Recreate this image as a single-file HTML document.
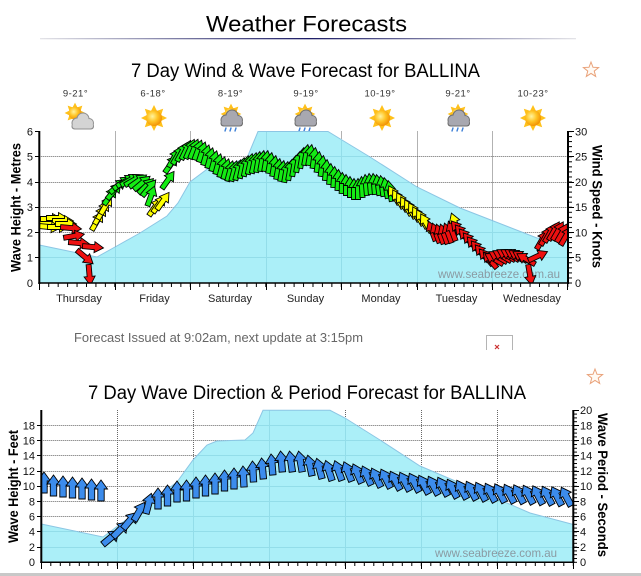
<!DOCTYPE html>
<html><head><meta charset="utf-8">
<style>
html,body{margin:0;padding:0;background:#fff;}
svg{display:block;}
text{font-family:"Liberation Sans",Arial,sans-serif;}
.g{fill:#14ec14}.y{fill:#ffff00}.r{fill:#ee1010}
</style></head><body>
<svg width="641" height="576" viewBox="0 0 641 576" xmlns="http://www.w3.org/2000/svg">
<defs>
<path id="a" d="M0,-10.5L5.5,-1.5H2.5V10.5H-2.5V-1.5H-5.5Z" stroke="#000" stroke-width="0.9"/>
<path id="b" d="M0,-11L6.5,-2H3.2V10H-3.2V-2H-6.5Z" stroke="#000" stroke-width="0.9" fill="#3c8cec"/>
<linearGradient id="ul" x1="0" x2="1" y1="0" y2="0">
<stop offset="0" stop-color="#e4e4e8"/><stop offset="0.5" stop-color="#1c1c66"/><stop offset="1" stop-color="#e4e4e8"/>
</linearGradient>
<radialGradient id="sg" cx="0.4" cy="0.4" r="0.65">
<stop offset="0" stop-color="#fff4a0"/><stop offset="0.5" stop-color="#ffc526"/><stop offset="1" stop-color="#f08c00"/>
</radialGradient>
<g id="sun">
<g fill="#ffc11a">
<polygon points="0,-13 -3,-7 3,-7"/>
<polygon points="0,-13 -3,-7 3,-7" transform="rotate(45)"/>
<polygon points="0,-13 -3,-7 3,-7" transform="rotate(90)"/>
<polygon points="0,-13 -3,-7 3,-7" transform="rotate(135)"/>
<polygon points="0,-13 -3,-7 3,-7" transform="rotate(180)"/>
<polygon points="0,-13 -3,-7 3,-7" transform="rotate(225)"/>
<polygon points="0,-13 -3,-7 3,-7" transform="rotate(270)"/>
<polygon points="0,-13 -3,-7 3,-7" transform="rotate(315)"/>
</g>
<circle r="8" fill="url(#sg)"/>
</g>
<g id="cl">
<g fill="#8f8f8f"><circle cx="-5" cy="2" r="5.5"/><circle cx="1" cy="-2" r="6.5"/><circle cx="7" cy="2" r="5"/><rect x="-10.5" y="2" width="22.5" height="6.5" rx="3"/></g>
<g fill="#d4d4d4"><circle cx="-5" cy="2" r="4.5"/><circle cx="1" cy="-2" r="5.5"/><circle cx="7" cy="2" r="4"/><rect x="-9.5" y="2" width="20.5" height="5.5" rx="2.5"/></g>
</g>
<g id="cd">
<g fill="#6f6f6f"><circle cx="-5" cy="2" r="5.5"/><circle cx="1" cy="-2" r="6.5"/><circle cx="7" cy="2" r="5"/><rect x="-10.5" y="2" width="22.5" height="6.5" rx="3"/></g>
<g fill="#a8a8b0"><circle cx="-5" cy="2" r="4.5"/><circle cx="1" cy="-2" r="5.5"/><circle cx="7" cy="2" r="4"/><rect x="-9.5" y="2" width="20.5" height="5.5" rx="2.5"/></g>
</g>
<g id="rn" stroke="#3d7fd6" stroke-width="1.4" stroke-linecap="round">
<line x1="-5" y1="10" x2="-6" y2="13"/><line x1="0" y1="10" x2="-1" y2="13"/><line x1="5" y1="10" x2="4" y2="13"/>
</g>
<polygon id="star" points="0,-8 2,-2.75 7.61,-2.47 3.23,1.05 4.7,6.47 0,3.4 -4.7,6.47 -3.23,1.05 -7.61,-2.47 -2,-2.75" fill="#fffaf4" stroke="#e9a27a" stroke-width="1"/>
<clipPath id="cp1"><rect x="39.3" y="120" width="528.7" height="163"/></clipPath>
<clipPath id="cp2"><rect x="41.3" y="400" width="532" height="162.3"/></clipPath>
<clipPath id="ar1"><polygon points="39.3,245 97,257 115,247 140,233 167,216 178,203 190,182 210,167 233,163 247,158 258,131.5 328,131.5 342,140 370,157 417,187 460,208 537,238 568,242 568,283 39.3,283"/></clipPath>
<clipPath id="ar2"><polygon points="41.3,524 103,537 150,502 177,482 193,460 207,445 217,441 245,440 253,433 263,410.3 330,410.3 345,418 380,440 420,466 460,483 500,500 530,513 573.3,524.5 573.3,562.3 41.3,562.3"/></clipPath>
<pattern id="t1" patternUnits="userSpaceOnUse" x="38.8" y="0" width="9.4375" height="10"><rect x="0" y="0" width="1" height="10" fill="#000"/></pattern>
<pattern id="t2" patternUnits="userSpaceOnUse" x="0" y="131" width="10" height="5.05"><rect x="0" y="0" width="10" height="1" fill="#000"/></pattern>
<pattern id="t3" patternUnits="userSpaceOnUse" x="40.8" y="0" width="9.5" height="10"><rect x="0" y="0" width="1" height="10" fill="#000"/></pattern>
<pattern id="t4" patternUnits="userSpaceOnUse" x="0" y="409.8" width="10" height="3.8"><rect x="0" y="0" width="10" height="1" fill="#000"/></pattern>
</defs>

<rect width="641" height="576" fill="#fff"/>

<!-- Header -->
<text x="306.5" y="31.5" font-size="22" text-anchor="middle" textLength="201" lengthAdjust="spacingAndGlyphs" fill="#000">Weather Forecasts</text>
<rect x="40" y="38" width="536" height="1.3" fill="url(#ul)"/>

<text x="305.5" y="77" font-size="19" text-anchor="middle" textLength="349" lengthAdjust="spacingAndGlyphs" fill="#000">7 Day Wind &amp; Wave Forecast for BALLINA</text>
<use href="#star" transform="translate(591,70)"/>

<!-- temps -->
<g font-size="9.5" fill="#333" text-anchor="middle" letter-spacing="0.5">
<text x="75.5" y="96.5">9-21°</text>
<text x="153" y="96.5">6-18°</text>
<text x="230.6" y="96.5">8-19°</text>
<text x="306" y="96.5">9-19°</text>
<text x="380" y="96.5">10-19°</text>
<text x="458" y="96.5">9-21°</text>
<text x="533" y="96.5">10-23°</text>
</g>

<!-- icons -->
<use href="#sun" transform="translate(75,113) scale(0.8)"/>
<use href="#cl" transform="translate(82,121)"/>
<use href="#sun" transform="translate(154,118)"/>
<use href="#sun" transform="translate(231,114) scale(0.8)"/>
<use href="#cd" transform="translate(231,118)"/>
<use href="#rn" transform="translate(231,118)"/>
<use href="#sun" transform="translate(305,114) scale(0.8)"/>
<use href="#cd" transform="translate(305,118)"/>
<use href="#rn" transform="translate(305,118)"/>
<use href="#sun" transform="translate(382,118)"/>
<use href="#sun" transform="translate(458,114) scale(0.8)"/>
<use href="#cd" transform="translate(458,118)"/>
<use href="#rn" transform="translate(458,118)"/>
<use href="#sun" transform="translate(533,118)"/>

<!-- ============ CHART 1 ============ -->
<g stroke="#666" stroke-width="1" stroke-dasharray="1,1">
<line x1="39.3" y1="156.5" x2="568" y2="156.5"/>
<line x1="39.3" y1="182.5" x2="568" y2="182.5"/>
<line x1="39.3" y1="207.5" x2="568" y2="207.5"/>
<line x1="39.3" y1="232.5" x2="568" y2="232.5"/>
<line x1="39.3" y1="257.5" x2="568" y2="257.5"/>
<line x1="115.5" y1="131.5" x2="115.5" y2="283"/>
<line x1="190.5" y1="131.5" x2="190.5" y2="283"/>
<line x1="266.5" y1="131.5" x2="266.5" y2="283"/>
<line x1="341.5" y1="131.5" x2="341.5" y2="283"/>
<line x1="417.5" y1="131.5" x2="417.5" y2="283"/>
<line x1="492.5" y1="131.5" x2="492.5" y2="283"/>
</g>
<polygon points="39.3,245 97,257 115,247 140,233 167,216 178,203 190,182 210,167 233,163 247,158 258,131.5 328,131.5 342,140 370,157 417,187 460,208 537,238 568,242 568,283 39.3,283" fill="#abeff8"/>
<g clip-path="url(#ar1)" stroke="#93dde9" stroke-width="1">
<line x1="39.3" y1="156.5" x2="568" y2="156.5"/>
<line x1="39.3" y1="182.5" x2="568" y2="182.5"/>
<line x1="39.3" y1="207.5" x2="568" y2="207.5"/>
<line x1="39.3" y1="232.5" x2="568" y2="232.5"/>
<line x1="39.3" y1="257.5" x2="568" y2="257.5"/>
<line x1="115.5" y1="131.5" x2="115.5" y2="283"/>
<line x1="190.5" y1="131.5" x2="190.5" y2="283"/>
<line x1="266.5" y1="131.5" x2="266.5" y2="283"/>
<line x1="341.5" y1="131.5" x2="341.5" y2="283"/>
<line x1="417.5" y1="131.5" x2="417.5" y2="283"/>
<line x1="492.5" y1="131.5" x2="492.5" y2="283"/>
</g>
<polyline points="39.3,245 97,257 115,247 140,233 167,216 178,203 190,182 210,167 233,163 247,158 258,131.5 328,131.5 342,140 370,157 417,187 460,208 537,238 568,242" fill="none" stroke="#8cc6e4" stroke-width="1"/>

<text x="438" y="278" font-size="12" fill="#8a9aa2" textLength="122" lengthAdjust="spacingAndGlyphs">www.seabreeze.com.au</text>

<g clip-path="url(#cp1)">
<g class="y">
<use href="#a" transform="translate(45,223) rotate(90)"/>
<use href="#a" transform="translate(51,219) rotate(90)"/>
<use href="#a" transform="translate(57,218) rotate(90)"/>
<use href="#a" transform="translate(63,221) rotate(90)"/>
<use href="#a" transform="translate(50,227) rotate(95)"/>
<use href="#a" transform="translate(58,227) rotate(90)"/>
<use href="#a" transform="translate(66,224) rotate(90)"/>
</g>
<g class="r">
<use href="#a" transform="translate(71,228) rotate(95)"/>
<use href="#a" transform="translate(74,236) rotate(80)"/>
<use href="#a" transform="translate(79,243) rotate(95)"/>
<use href="#a" transform="translate(93,247) rotate(95)"/>
<use href="#a" transform="translate(85,257) rotate(130)"/>
<use href="#a" transform="translate(89.5,275) rotate(175)"/>
</g>
<g class="y">
<use href="#a" transform="translate(97,221) rotate(30)"/>
<use href="#a" transform="translate(100,215) rotate(30)"/>
<use href="#a" transform="translate(103,210) rotate(30)"/>
<use href="#a" transform="translate(106,205) rotate(30)"/>
</g>
<g class="g">
<use href="#a" transform="translate(110,196) rotate(35)"/>
<use href="#a" transform="translate(114,191) rotate(40)"/>
<use href="#a" transform="translate(118,186) rotate(50)"/>
<use href="#a" transform="translate(122,183) rotate(55)"/>
<use href="#a" transform="translate(126,181) rotate(60)"/>
<use href="#a" transform="translate(130,180) rotate(60)"/>
<use href="#a" transform="translate(134,180) rotate(60)"/>
<use href="#a" transform="translate(138,181) rotate(55)"/>
<use href="#a" transform="translate(142,183) rotate(50)"/>
<use href="#a" transform="translate(146,186) rotate(45)"/>
<use href="#a" transform="translate(149,188) rotate(40)"/>
<use href="#a" transform="translate(151,196) rotate(20)"/>
</g>
<g class="y">
<use href="#a" transform="translate(155,207) rotate(35)"/>
<use href="#a" transform="translate(159,204) rotate(35)"/>
<use href="#a" transform="translate(163,201) rotate(35)"/>
</g>
<g class="g">
<use href="#a" transform="translate(168,180) rotate(35)"/>
<use href="#a" transform="translate(171,164) rotate(35)"/>
<use href="#a" transform="translate(174,158) rotate(30)"/>
<use href="#a" transform="translate(178,155) rotate(30)"/>
<use href="#a" transform="translate(182,152) rotate(28)"/>
<use href="#a" transform="translate(186,150) rotate(26)"/>
<use href="#a" transform="translate(190,149) rotate(24)"/>
<use href="#a" transform="translate(194,149) rotate(22)"/>
<use href="#a" transform="translate(198,150) rotate(20)"/>
<use href="#a" transform="translate(202,152) rotate(18)"/>
<use href="#a" transform="translate(206,155) rotate(16)"/>
<use href="#a" transform="translate(210,158) rotate(15)"/>
<use href="#a" transform="translate(214,161) rotate(15)"/>
<use href="#a" transform="translate(218,164) rotate(15)"/>
<use href="#a" transform="translate(222,167) rotate(15)"/>
<use href="#a" transform="translate(226,169) rotate(15)"/>
<use href="#a" transform="translate(230,171) rotate(15)"/>
<use href="#a" transform="translate(234,171) rotate(15)"/>
<use href="#a" transform="translate(238,170) rotate(15)"/>
<use href="#a" transform="translate(242,168) rotate(12)"/>
<use href="#a" transform="translate(246,166) rotate(12)"/>
<use href="#a" transform="translate(250,164) rotate(12)"/>
<use href="#a" transform="translate(254,163) rotate(12)"/>
<use href="#a" transform="translate(258,162) rotate(10)"/>
<use href="#a" transform="translate(262,161) rotate(10)"/>
<use href="#a" transform="translate(266,161) rotate(10)"/>
<use href="#a" transform="translate(270,163) rotate(10)"/>
<use href="#a" transform="translate(274,166) rotate(10)"/>
<use href="#a" transform="translate(278,169) rotate(10)"/>
<use href="#a" transform="translate(282,171) rotate(10)"/>
<use href="#a" transform="translate(286,172) rotate(10)"/>
<use href="#a" transform="translate(290,170) rotate(10)"/>
<use href="#a" transform="translate(294,166) rotate(10)"/>
<use href="#a" transform="translate(298,162) rotate(10)"/>
<use href="#a" transform="translate(302,158) rotate(10)"/>
<use href="#a" transform="translate(306,155) rotate(10)"/>
<use href="#a" transform="translate(310,155) rotate(10)"/>
<use href="#a" transform="translate(314,158) rotate(8)"/>
<use href="#a" transform="translate(318,162) rotate(8)"/>
<use href="#a" transform="translate(322,166) rotate(8)"/>
<use href="#a" transform="translate(326,170) rotate(6)"/>
<use href="#a" transform="translate(330,174) rotate(5)"/>
<use href="#a" transform="translate(334,177) rotate(4)"/>
<use href="#a" transform="translate(338,180) rotate(3)"/>
<use href="#a" transform="translate(342,183) rotate(2)"/>
<use href="#a" transform="translate(346,185) rotate(0)"/>
<use href="#a" transform="translate(350,187) rotate(0)"/>
<use href="#a" transform="translate(354,189) rotate(0)"/>
<use href="#a" transform="translate(358,189) rotate(0)"/>
<use href="#a" transform="translate(362,187) rotate(-3)"/>
<use href="#a" transform="translate(366,185) rotate(-5)"/>
<use href="#a" transform="translate(370,184) rotate(-5)"/>
<use href="#a" transform="translate(374,184) rotate(-5)"/>
<use href="#a" transform="translate(378,185) rotate(-8)"/>
<use href="#a" transform="translate(382,186) rotate(-8)"/>
<use href="#a" transform="translate(386,188) rotate(-10)"/>
<use href="#a" transform="translate(390,191) rotate(-10)"/>
</g>
<g class="y">
<use href="#a" transform="translate(394,195) rotate(-30)"/>
<use href="#a" transform="translate(398,199) rotate(-30)"/>
<use href="#a" transform="translate(402,202) rotate(-30)"/>
<use href="#a" transform="translate(406,206) rotate(-30)"/>
<use href="#a" transform="translate(410,209) rotate(-30)"/>
<use href="#a" transform="translate(414,212) rotate(-30)"/>
<use href="#a" transform="translate(418,216) rotate(-30)"/>
<use href="#a" transform="translate(422,219) rotate(-30)"/>
<use href="#a" transform="translate(426,223) rotate(-30)"/>
</g>
<g class="r">
<use href="#a" transform="translate(432,231) rotate(-20)"/>
<use href="#a" transform="translate(436,233) rotate(-20)"/>
<use href="#a" transform="translate(440,234) rotate(-20)"/>
<use href="#a" transform="translate(444,234) rotate(-20)"/>
<use href="#a" transform="translate(448,233) rotate(-20)"/>
<use href="#a" transform="translate(452,231) rotate(-20)"/>
</g>
<use href="#a" class="y" transform="translate(455,223) rotate(-20)"/>
<g class="r">
<use href="#a" transform="translate(458,229) rotate(-40)"/>
<use href="#a" transform="translate(462,233) rotate(-40)"/>
<use href="#a" transform="translate(466,237) rotate(-40)"/>
<use href="#a" transform="translate(470,241) rotate(-40)"/>
<use href="#a" transform="translate(474,245) rotate(-40)"/>
<use href="#a" transform="translate(478,249) rotate(-40)"/>
<use href="#a" transform="translate(482,253) rotate(-40)"/>
<use href="#a" transform="translate(486,257) rotate(-40)"/>
<use href="#a" transform="translate(490,260) rotate(-40)"/>
<use href="#a" transform="translate(494,259) rotate(-60)"/>
<use href="#a" transform="translate(498,257) rotate(-60)"/>
<use href="#a" transform="translate(502,256) rotate(-60)"/>
<use href="#a" transform="translate(506,255) rotate(-60)"/>
<use href="#a" transform="translate(510,255) rotate(-60)"/>
<use href="#a" transform="translate(514,255) rotate(-60)"/>
<use href="#a" transform="translate(518,256) rotate(-60)"/>
<use href="#a" transform="translate(522,257) rotate(-60)"/>
<use href="#a" transform="translate(526,259) rotate(-60)"/>
<use href="#a" transform="translate(530,275) rotate(170)"/>
<use href="#a" transform="translate(538,256) rotate(65)"/>
<use href="#a" transform="translate(542,240) rotate(30)"/>
<use href="#a" transform="translate(546,236) rotate(30)"/>
<use href="#a" transform="translate(550,233) rotate(30)"/>
<use href="#a" transform="translate(554,231) rotate(30)"/>
<use href="#a" transform="translate(558,231) rotate(30)"/>
<use href="#a" transform="translate(562,233) rotate(30)"/>
<use href="#a" transform="translate(566,236) rotate(30)"/>
</g>
</g>

<!-- axes chart 1 -->
<g stroke="#000">
<line x1="39.3" y1="131" x2="39.3" y2="284" stroke-width="2"/>
<line x1="568" y1="131" x2="568" y2="284" stroke-width="2"/>
<line x1="38.3" y1="283" x2="569" y2="283" stroke-width="1.5"/>
<g stroke-width="1">
<line x1="35" y1="131.5" x2="39" y2="131.5"/>
<line x1="35" y1="156.5" x2="39" y2="156.5"/>
<line x1="35" y1="182.5" x2="39" y2="182.5"/>
<line x1="35" y1="207.5" x2="39" y2="207.5"/>
<line x1="35" y1="232.5" x2="39" y2="232.5"/>
<line x1="35" y1="257.5" x2="39" y2="257.5"/>
<line x1="569" y1="131.5" x2="574" y2="131.5"/>
<line x1="569" y1="156.5" x2="574" y2="156.5"/>
<line x1="569" y1="182.5" x2="574" y2="182.5"/>
<line x1="569" y1="207.5" x2="574" y2="207.5"/>
<line x1="569" y1="232.5" x2="574" y2="232.5"/>
<line x1="569" y1="257.5" x2="574" y2="257.5"/>
<line x1="39.5" y1="283" x2="39.5" y2="290"/>
<line x1="115.5" y1="283" x2="115.5" y2="290"/>
<line x1="190.5" y1="283" x2="190.5" y2="290"/>
<line x1="266.5" y1="283" x2="266.5" y2="290"/>
<line x1="341.5" y1="283" x2="341.5" y2="290"/>
<line x1="417.5" y1="283" x2="417.5" y2="290"/>
<line x1="492.5" y1="283" x2="492.5" y2="290"/>
<line x1="567.5" y1="283" x2="567.5" y2="290"/>
</g>
</g>
<rect x="39" y="283" width="530" height="4" fill="url(#t1)"/>
<rect x="569" y="131" width="3" height="153" fill="url(#t2)"/>

<g font-size="11" fill="#111" text-anchor="end">
<text x="33" y="135.5">6</text>
<text x="33" y="160.5">5</text>
<text x="33" y="186">4</text>
<text x="33" y="211">3</text>
<text x="33" y="236.5">2</text>
<text x="33" y="261.5">1</text>
<text x="33" y="287">0</text>
</g>
<g font-size="11" fill="#111">
<text x="575" y="135.5">30</text>
<text x="575" y="160.5">25</text>
<text x="575" y="186">20</text>
<text x="575" y="211">15</text>
<text x="575" y="236.5">10</text>
<text x="575" y="261.5">5</text>
<text x="575" y="287">0</text>
</g>
<g font-size="11" fill="#222" text-anchor="middle">
<text x="79" y="302">Thursday</text>
<text x="154.5" y="302">Friday</text>
<text x="230" y="302">Saturday</text>
<text x="305.5" y="302">Sunday</text>
<text x="381" y="302">Monday</text>
<text x="456.5" y="302">Tuesday</text>
<text x="532" y="302">Wednesday</text>
</g>
<text transform="translate(20.5,207.5) rotate(-90)" font-size="14" font-weight="bold" text-anchor="middle" textLength="129" lengthAdjust="spacingAndGlyphs" fill="#000">Wave Height - Metres</text>
<text transform="translate(592.5,206.5) rotate(90)" font-size="14" font-weight="bold" text-anchor="middle" textLength="123" lengthAdjust="spacingAndGlyphs" fill="#000">Wind Speed - Knots</text>

<!-- middle -->
<text x="74" y="342" font-size="12.5" fill="#666" textLength="289" lengthAdjust="spacingAndGlyphs">Forecast Issued at 9:02am, next update at 3:15pm</text>
<path d="M486.5,350 V335.5 H512.5 V350" fill="#fff" stroke="#b4b4b4" stroke-width="1"/>
<g stroke="#cc3333" stroke-width="1.2"><line x1="495" y1="345" x2="499" y2="349"/><line x1="499" y1="345" x2="495" y2="349"/></g>

<use href="#star" transform="translate(595,377)"/>
<text x="307" y="399" font-size="19" text-anchor="middle" textLength="438" lengthAdjust="spacingAndGlyphs" fill="#000">7 Day Wave Direction &amp; Period Forecast for BALLINA</text>

<!-- ============ CHART 2 ============ -->
<g stroke="#666" stroke-width="1" stroke-dasharray="1,1">
<line x1="41.3" y1="425.5" x2="573.3" y2="425.5"/>
<line x1="41.3" y1="440.5" x2="573.3" y2="440.5"/>
<line x1="41.3" y1="455.5" x2="573.3" y2="455.5"/>
<line x1="41.3" y1="471.5" x2="573.3" y2="471.5"/>
<line x1="41.3" y1="486.5" x2="573.3" y2="486.5"/>
<line x1="41.3" y1="501.5" x2="573.3" y2="501.5"/>
<line x1="41.3" y1="516.5" x2="573.3" y2="516.5"/>
<line x1="41.3" y1="531.5" x2="573.3" y2="531.5"/>
<line x1="41.3" y1="547.5" x2="573.3" y2="547.5"/>
<line x1="117.5" y1="410" x2="117.5" y2="562"/>
<line x1="193.5" y1="410" x2="193.5" y2="562"/>
<line x1="269.5" y1="410" x2="269.5" y2="562"/>
<line x1="345.5" y1="410" x2="345.5" y2="562"/>
<line x1="421.5" y1="410" x2="421.5" y2="562"/>
<line x1="497.5" y1="410" x2="497.5" y2="562"/>
</g>
<polygon points="41.3,524 103,537 150,502 177,482 193,460 207,445 217,441 245,440 253,433 263,410.3 330,410.3 345,418 380,440 420,466 460,483 500,500 530,513 573.3,524.5 573.3,562.3 41.3,562.3" fill="#abeff8"/>
<g clip-path="url(#ar2)" stroke="#93dde9" stroke-width="1">
<line x1="41.3" y1="425.5" x2="573.3" y2="425.5"/>
<line x1="41.3" y1="440.5" x2="573.3" y2="440.5"/>
<line x1="41.3" y1="455.5" x2="573.3" y2="455.5"/>
<line x1="41.3" y1="471.5" x2="573.3" y2="471.5"/>
<line x1="41.3" y1="486.5" x2="573.3" y2="486.5"/>
<line x1="41.3" y1="501.5" x2="573.3" y2="501.5"/>
<line x1="41.3" y1="516.5" x2="573.3" y2="516.5"/>
<line x1="41.3" y1="531.5" x2="573.3" y2="531.5"/>
<line x1="41.3" y1="547.5" x2="573.3" y2="547.5"/>
<line x1="117.5" y1="410" x2="117.5" y2="562"/>
<line x1="193.5" y1="410" x2="193.5" y2="562"/>
<line x1="269.5" y1="410" x2="269.5" y2="562"/>
<line x1="345.5" y1="410" x2="345.5" y2="562"/>
<line x1="421.5" y1="410" x2="421.5" y2="562"/>
<line x1="497.5" y1="410" x2="497.5" y2="562"/>
</g>
<polyline points="41.3,524 103,537 150,502 177,482 193,460 207,445 217,441 245,440 253,433 263,410.3 330,410.3 345,418 380,440 420,466 460,483 500,500 530,513 573.3,524.5" fill="none" stroke="#8cc6e4" stroke-width="1"/>

<text x="435" y="557" font-size="12" fill="#8a9aa2" textLength="122" lengthAdjust="spacingAndGlyphs">www.seabreeze.com.au</text>

<g clip-path="url(#cp2)">
<use href="#b" transform="translate(44,483)"/>
<use href="#b" transform="translate(53.5,486)"/>
<use href="#b" transform="translate(63,487)"/>
<use href="#b" transform="translate(72.5,488)"/>
<use href="#b" transform="translate(82,489)"/>
<use href="#b" transform="translate(91.5,490)"/>
<use href="#b" transform="translate(101,491)"/>
<use href="#b" transform="translate(110.5,538) rotate(50)"/>
<use href="#b" transform="translate(120,530) rotate(45)"/>
<use href="#b" transform="translate(129.5,521) rotate(40)"/>
<use href="#b" transform="translate(139,512) rotate(30)"/>
<use href="#b" transform="translate(148.5,504) rotate(15)"/>
<use href="#b" transform="translate(158,499)"/>
<use href="#b" transform="translate(167.5,496)"/>
<use href="#b" transform="translate(177,492)"/>
<use href="#b" transform="translate(186.5,491)"/>
<use href="#b" transform="translate(196,488)"/>
<use href="#b" transform="translate(205.5,486)"/>
<use href="#b" transform="translate(215,484)"/>
<use href="#b" transform="translate(224.5,481)"/>
<use href="#b" transform="translate(234,479)"/>
<use href="#b" transform="translate(243.5,477) rotate(-3)"/>
<use href="#b" transform="translate(253,472) rotate(-3)"/>
<use href="#b" transform="translate(262.5,469) rotate(-5)"/>
<use href="#b" transform="translate(272,465) rotate(-5)"/>
<use href="#b" transform="translate(281.5,462) rotate(-5)"/>
<use href="#b" transform="translate(291,462) rotate(-8)"/>
<use href="#b" transform="translate(300.5,462) rotate(-10)"/>
<use href="#b" transform="translate(310,466) rotate(-12)"/>
<use href="#b" transform="translate(319.5,469) rotate(-15)"/>
<use href="#b" transform="translate(329,471) rotate(-18)"/>
<use href="#b" transform="translate(338.5,471) rotate(-20)"/>
<use href="#b" transform="translate(348,472) rotate(-22)"/>
<use href="#b" transform="translate(357.5,474) rotate(-24)"/>
<use href="#b" transform="translate(367,476) rotate(-25)"/>
<use href="#b" transform="translate(376.5,478) rotate(-26)"/>
<use href="#b" transform="translate(386,479) rotate(-27)"/>
<use href="#b" transform="translate(395.5,481) rotate(-28)"/>
<use href="#b" transform="translate(405,482) rotate(-28)"/>
<use href="#b" transform="translate(414.5,483) rotate(-28)"/>
<use href="#b" transform="translate(424,485) rotate(-28)"/>
<use href="#b" transform="translate(433.5,486) rotate(-28)"/>
<use href="#b" transform="translate(443,487) rotate(-28)"/>
<use href="#b" transform="translate(452.5,489) rotate(-28)"/>
<use href="#b" transform="translate(462,490) rotate(-28)"/>
<use href="#b" transform="translate(471.5,491) rotate(-28)"/>
<use href="#b" transform="translate(481,492) rotate(-28)"/>
<use href="#b" transform="translate(490.5,493) rotate(-28)"/>
<use href="#b" transform="translate(500,493.5) rotate(-28)"/>
<use href="#b" transform="translate(509.5,494) rotate(-28)"/>
<use href="#b" transform="translate(519,494.5) rotate(-28)"/>
<use href="#b" transform="translate(528.5,495) rotate(-28)"/>
<use href="#b" transform="translate(538,495.5) rotate(-28)"/>
<use href="#b" transform="translate(547.5,496) rotate(-28)"/>
<use href="#b" transform="translate(557,496.5) rotate(-28)"/>
<use href="#b" transform="translate(566.5,497) rotate(-28)"/>
</g>

<!-- axes chart 2 -->
<g stroke="#000">
<line x1="41.3" y1="410" x2="41.3" y2="563" stroke-width="2"/>
<line x1="573.3" y1="410" x2="573.3" y2="563" stroke-width="2"/>
<line x1="40.3" y1="562.3" x2="574.3" y2="562.3" stroke-width="1.5"/>
<g stroke-width="1">
<line x1="37" y1="425.5" x2="41" y2="425.5"/>
<line x1="37" y1="440.5" x2="41" y2="440.5"/>
<line x1="37" y1="455.5" x2="41" y2="455.5"/>
<line x1="37" y1="471.5" x2="41" y2="471.5"/>
<line x1="37" y1="486.5" x2="41" y2="486.5"/>
<line x1="37" y1="501.5" x2="41" y2="501.5"/>
<line x1="37" y1="516.5" x2="41" y2="516.5"/>
<line x1="37" y1="531.5" x2="41" y2="531.5"/>
<line x1="37" y1="547.5" x2="41" y2="547.5"/>
<line x1="574" y1="410.5" x2="579" y2="410.5"/>
<line x1="574" y1="425.5" x2="579" y2="425.5"/>
<line x1="574" y1="440.5" x2="579" y2="440.5"/>
<line x1="574" y1="455.5" x2="579" y2="455.5"/>
<line x1="574" y1="471.5" x2="579" y2="471.5"/>
<line x1="574" y1="486.5" x2="579" y2="486.5"/>
<line x1="574" y1="501.5" x2="579" y2="501.5"/>
<line x1="574" y1="516.5" x2="579" y2="516.5"/>
<line x1="574" y1="531.5" x2="579" y2="531.5"/>
<line x1="574" y1="547.5" x2="579" y2="547.5"/>
<line x1="41.5" y1="562" x2="41.5" y2="569"/>
<line x1="117.5" y1="562" x2="117.5" y2="569"/>
<line x1="193.5" y1="562" x2="193.5" y2="569"/>
<line x1="269.5" y1="562" x2="269.5" y2="569"/>
<line x1="345.5" y1="562" x2="345.5" y2="569"/>
<line x1="421.5" y1="562" x2="421.5" y2="569"/>
<line x1="497.5" y1="562" x2="497.5" y2="569"/>
<line x1="573.5" y1="562" x2="573.5" y2="569"/>
</g>
</g>
<rect x="41" y="562" width="533" height="4" fill="url(#t3)"/>
<rect x="574" y="410" width="3" height="153" fill="url(#t4)"/>

<g font-size="11" fill="#111" text-anchor="end">
<text x="35" y="429.5">18</text>
<text x="35" y="444.5">16</text>
<text x="35" y="459.5">14</text>
<text x="35" y="475">12</text>
<text x="35" y="490">10</text>
<text x="35" y="505.5">8</text>
<text x="35" y="520.5">6</text>
<text x="35" y="535.5">4</text>
<text x="35" y="551">2</text>
<text x="35" y="566">0</text>
</g>
<g font-size="11" fill="#111">
<text x="580" y="414">20</text>
<text x="580" y="429.5">18</text>
<text x="580" y="444.5">16</text>
<text x="580" y="459.5">14</text>
<text x="580" y="475">12</text>
<text x="580" y="490">10</text>
<text x="580" y="505.5">8</text>
<text x="580" y="520.5">6</text>
<text x="580" y="535.5">4</text>
<text x="580" y="551">2</text>
<text x="580" y="566">0</text>
</g>
<text transform="translate(18,486.5) rotate(-90)" font-size="14" font-weight="bold" text-anchor="middle" textLength="113" lengthAdjust="spacingAndGlyphs" fill="#000">Wave Height - Feet</text>
<text transform="translate(598,485) rotate(90)" font-size="14" font-weight="bold" text-anchor="middle" textLength="144" lengthAdjust="spacingAndGlyphs" fill="#000">Wave Period - Seconds</text>

<rect x="0" y="573" width="641" height="3" fill="#c8c8c8"/>
</svg>
</body></html>
